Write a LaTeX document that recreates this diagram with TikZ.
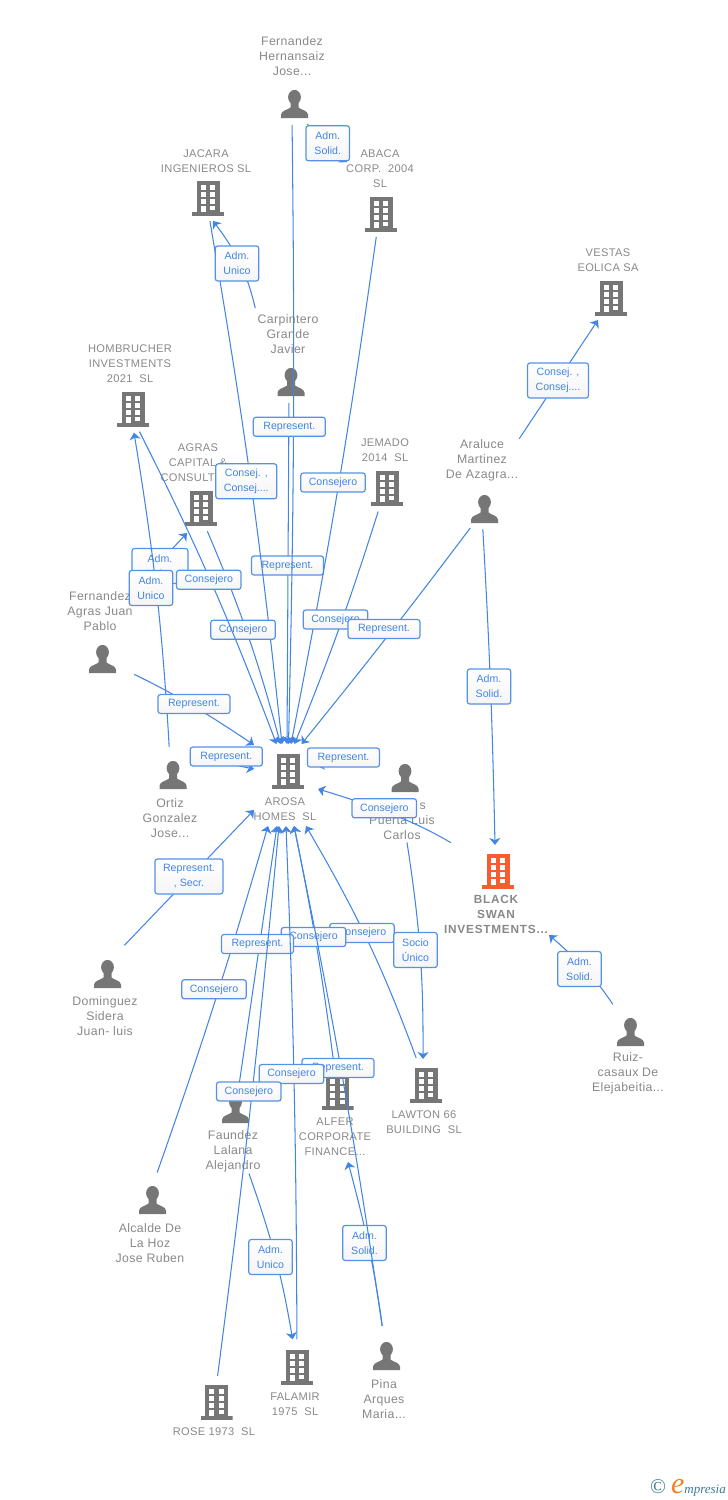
\documentclass[tikz,border=0pt]{standalone}
\usepackage{fontspec}
\setmainfont{Liberation Sans}
\newfontfamily\lblfont[LetterSpace=3]{Liberation Sans}
\newfontfamily\swanfont[LetterSpace=6.5]{Liberation Sans}
\newfontfamily\logofont{Liberation Serif}
\usetikzlibrary{positioning,arrows.meta,shadings}
\definecolor{relblue}{RGB}{66,133,228}
\definecolor{iconGray}{RGB}{118,118,118}
\definecolor{lblGray}{RGB}{136,136,136}
\definecolor{swanOrange}{RGB}{250,92,48}
\definecolor{logoTeal}{RGB}{58,122,150}
\definecolor{logoOrange}{RGB}{245,130,32}
\tikzset{
  rel/.style={draw=relblue,line width=1.05pt,-{Stealth[length=7pt,width=11pt,inset=2pt]}},
  relbox/.style={rectangle,rounded corners=2.5pt,draw=relblue!90,line width=1.2pt,
    top color=white,bottom color=black!4,text=relblue,align=center,inner sep=0pt,
    font=\fontsize{10.6}{15}\selectfont},
  rep/.style={relbox,minimum width=72pt,minimum height=19pt},
  con/.style={relbox,minimum width=64.5pt,minimum height=19pt},
  adm/.style={relbox,minimum width=43.5pt,minimum height=35pt},
  lbl/.style={text=lblGray,align=center,inner sep=1pt,yshift=0.3pt,font=\lblfont\fontsize{12.3}{15}\selectfont},
  colbl/.style={lbl,yshift=-1pt,font=\lblfont\fontsize{11.1}{15}\selectfont},
  swanlbl/.style={lbl,yshift=-1pt,font=\swanfont\bfseries\fontsize{11.8}{15}\selectfont},
  buildingicon/.style={rectangle,inner sep=0pt,minimum width=32pt,minimum height=35pt,
    path picture={
      \begin{scope}[shift={(path picture bounding box.center)}]
        \fill[#1] (-11.5,-17.5) rectangle (11.5,14.5);
        \fill[#1] (-16,14.2) rectangle (16,17.5);
        \foreach \yy in {-13,-6,1}{
          \fill[white] (-7.5,\yy) rectangle (-2.5,\yy+4.5);
          \fill[white] (2,\yy) rectangle (7,\yy+4.5);
        }
        \fill[white] (-7.5,7.7) rectangle (-2.5,14.3);
        \fill[white] (2,7.7) rectangle (7,12);
      \end{scope}
    }},
  building/.style={buildingicon=iconGray},
  person/.style={rectangle,inner sep=0pt,minimum width=27pt,minimum height=28pt,
    path picture={
      \begin{scope}[shift={(path picture bounding box.center)}]
        \fill[iconGray] (0,-6.8) ellipse (6.4 and 7.3);
        \fill[iconGray] (-13.5,14) -- (-13.5,10.5) .. controls (-13,6.5) and (-7,6) .. (-4,3.5)
          -- (-4,-2) -- (4,-2) -- (4,3.5) .. controls (7,6) and (13,6.5) .. (13.5,10.5) -- (13.5,14) -- cycle;
      \end{scope}
    }}
}
\begin{document}
\begin{tikzpicture}[x=1pt,y=-1pt]
  \useasboundingbox (0,0) rectangle (728,1500);

  % icons
  \node [person] (fernandezH) at (294.5,104) {};
  \node [building] (jacara) at (208,198) {};
  \node [building] (abaca) at (381,214) {};
  \node [person] (carpintero) at (291,382) {};
  \node [building] (vestas) at (611,298) {};
  \node [building] (hombrucher) at (133,409) {};
  \node [building] (agras) at (201,508) {};
  \node [building] (jemado) at (387,488) {};
  \node [person] (araluce) at (484.5,509) {};
  \node [person] (fernandezA) at (102.5,659) {};
  \node [person] (ortiz) at (173,775) {};
  \node [building] (arosa) at (288,771) {};
  \node [person] (puerta) at (405,778) {};
  \node [buildingicon=swanOrange] (swan) at (498,871) {};
  \node [person] (dominguez) at (107.5,974) {};
  \node [person] (ruiz) at (630.5,1032) {};
  \node [building] (lawton) at (426,1085) {};
  \node [building] (alfer) at (337.5,1092) {};
  \node [person] (faundez) at (235.5,1109) {};
  \node [person] (alcalde) at (152.5,1200) {};
  \node [building] (falamir) at (297,1367) {};
  \node [building] (rose) at (216.5,1402) {};
  \node [person] (pina) at (386.5,1356) {};

  % names
  \node [lbl] (fernandezHL) at (292,56) {Fernandez\\Hernansaiz\\Jose...};
  \node [colbl] (jacaraL) at (206,160.5) {JACARA\\INGENIEROS SL};
  \node [colbl] (abacaL) at (380,168) {ABACA\\CORP.\ \ 2004\\SL};
  \node [colbl] (vestasL) at (608,259.5) {VESTAS\\EOLICA SA};
  \node [lbl] (carpinteroL) at (288,334) {Carpintero\\Grande\\Javier};
  \node [colbl] (hombrucherL) at (130,363) {HOMBRUCHER\\INVESTMENTS\\2021\ \ SL};
  \node [colbl] (agrasL) at (198,462) {AGRAS\\CAPITAL \&\\CONSULTING};
  \node [colbl] (jemadoL) at (385,449.5) {JEMADO\\2014\ \ SL};
  \node [lbl] (araluceL) at (482,461) {Araluce\\Martinez\\De Azagra...};
  \node [lbl] (fernandezAL) at (100,611) {Fernandez\\Agras Juan\\Pablo};
  \node [lbl] (ortizL) at (170,818) {Ortiz\\Gonzalez\\Jose...};
  \node [colbl] (arosaL) at (285,808.5) {AROSA\\HOMES\ \ SL};
  \node [lbl] (puertaL) at (402,820) {\phantom{Parede}s\\Puerta Luis\\Carlos};
  \node [swanlbl] (swanL) at (496,914) {BLACK\\SWAN\\INVESTMENTS...};
  \node [lbl] (dominguezL) at (105,1016) {Dominguez\\Sidera\\Juan- luis};
  \node [lbl] (ruizL) at (628,1074) {Ruiz-\\casaux De\\Elejabeitia...};
  \node [colbl] (lawtonL) at (424,1121.5) {LAWTON 66\\BUILDING\ \ SL};
  \node [colbl] (alferL) at (335,1136) {ALFER\\CORPORATE\\FINANCE...};
  \node [lbl] (faundezL) at (233,1152) {Faundez\\Lalana\\Alejandro};
  \node [lbl] (alcaldeL) at (150,1243) {Alcalde De\\La Hoz\\Jose Ruben};
  \node [colbl] (falamirL) at (295,1403.5) {FALAMIR\\1975\ \ SL};
  \node [colbl] (roseL) at (214,1431) {ROSE 1973\ \ SL};
  \node [lbl] (pinaL) at (384,1399) {Pina\\Arques\\Maria...};

  % free ends at the hub
  \coordinate (arT1) at (276.5,744);
  \coordinate (arT2) at (280.5,744);
  \coordinate (arT3) at (282,744);
  \coordinate (arT4) at (287,744);
  \coordinate (arT5) at (288.5,744);
  \coordinate (arT6) at (291,744);
  \coordinate (arT7) at (294.5,744);
  \coordinate (arT8) at (301.5,744);
  \coordinate (arW) at (254,745);
  \coordinate (arB1) at (268,826);
  \coordinate (arB2) at (277,826);
  \coordinate (arB3) at (279,826);
  \coordinate (arB4) at (286,826);
  \coordinate (arB5) at (294,826);
  \coordinate (arB6) at (306,826);
  \coordinate (arSW) at (254,810);
  \coordinate (arE) at (318,789);
  \coordinate (arOrtiz) at (254,769);
  \coordinate (arPuerta) at (317,766);
  \coordinate (ortizS) at (200,758);
  \coordinate (puertaS) at (375,752);
  \coordinate (agrasT) at (187,533);
  \coordinate (abacaT) at (347,162);
  \coordinate (jacaraT) at (213,221);
  \coordinate (swanT) at (495,845);
  \coordinate (alferT) at (348,1162);
  \coordinate (vestasT) at (598,320);
  \coordinate (lawtonT) at (423,1059);

  % edges, in drawing order
  \draw [rel,shorten <=7pt] (fernandezH) to[bend right=10] (abacaT);
  \node [adm] (bFA) at (327.7,143.3) {Adm.\\Solid.};

  \draw [rel,shorten <=7pt] ([xshift=-2]carpintero.south) -- (arT4);
  \node [rep] (bCA) at (287.5,565.5) {Represent.};
  \draw [rel,shorten <=7pt] ([xshift=-2.5]fernandezH.south) to[bend left=1] (arT5);
  \node [rep] (bFH) at (289.3,426.8) {Represent.};
  \draw [rel,shorten <=5.5pt] ([xshift=1]jacara.south) to[bend left=1.8] (arT3);
  \node [relbox,minimum width=61pt,minimum height=35pt] (bJA) at (246.3,481.3) {Consej. ,\\Consej....};
  \draw [rel,shorten <=5.5pt] ([xshift=-4]abaca.south) to[bend left=1.5] (arT6);
  \node [con] (bAB) at (333,482.5) {Consejero};
  \draw [rel,shorten <=5pt] (carpinteroL.north west) to[bend right=12] (jacaraT);
  \node [adm] (bCJ) at (237,263.5) {Adm.\\Unico};

  \draw [rel,shorten <=6pt] ([xshift=4]agras.south) to[bend left=4] (arT2);
  \node [con] (bAG) at (243,629.7) {Consejero};
  \draw [rel] (fernandezAL.north east) -- (agrasT);
  \node [relbox,minimum width=56pt,minimum height=35pt] (bFG) at (160,566) {Adm.\\Unico};
  \draw [rel,shorten <=14pt,shorten >=6pt] ([xshift=-3]ortiz.north) to[bend right=3] (hombrucher.south);
  \node [adm] (bOH) at (151,588) {Adm.\\Unico};
  \draw [rel,shorten <=5.5pt] ([xshift=4]hombrucher.south) to[bend left=3] (arT1);
  \node [con] (bHO) at (208.8,579.8) {Consejero};
  \draw [rel,shorten <=6pt] ([xshift=-7]jemado.south) to[bend left=2.2] (arT7);
  \node [con] (bJE) at (335.5,619.5) {Consejero};
  \draw [rel,shorten <=6pt] (araluce) to[bend left=1] (arT8);
  \node [rep] (bAR) at (384,629) {Represent.};

  \draw [rel,shorten <=20pt] (fernandezA) to[bend left=4] (arW);
  \node [rep] (bFW) at (194,704) {Represent.};
  \draw [rel] (ortizS) -- (arOrtiz);
  \node [rep] (bOA) at (226.3,756.5) {Represent.};
  \draw [rel] (puertaS) -- (arPuerta);
  \node [rep] (bPA) at (343.5,757.5) {Represent.};
  \draw [rel,shorten <=36pt] (swan) to[bend right=7] (arE);
  \node [con] (bSA) at (384.3,808.3) {Consejero};

  \draw [rel] (araluceL.north east) -- (vestasT);
  \node [relbox,minimum width=61pt,minimum height=35pt] (bAV) at (558,380.5) {Consej. ,\\Consej....};
  \draw [rel,shorten <=6pt] ([xshift=-2]araluce.south) to[bend left=1] (swanT);
  \node [adm] (bAS) at (489,686.5) {Adm.\\Solid.};
  \draw [rel,shorten <=16pt] (ruiz) to[bend right=8] (swanL.south east);
  \node [adm] (bRS) at (579.5,969) {Adm.\\Solid.};

  \draw [rel,shorten <=20pt] ([xshift=3]dominguez.north) -- (arSW);
  \node [relbox,minimum width=68pt,minimum height=35pt] (bDA) at (189,876.5) {Represent.\\, Secr.};
  \draw [rel,shorten <=14pt] (alcalde.north) to[bend right=1.6] (arB1);
  \node [con] (bAL) at (214,989.3) {Consejero};
  \draw [rel,shorten <=10pt] (lawton) to[bend right=5] (arB6);
  \node [con] (bLA) at (362,933) {Consejero};
  \draw [rel,shorten <=5pt] (alfer) to[bend right=2] (arB5);
  \node [con] (bAF) at (313.5,937) {Consejero};
  \draw [rel] (faundez) -- (arB2);
  \node [rep] (bFD) at (257.5,944) {Represent.};
  \draw [rel] ([xshift=5,yshift=-2]puertaL.south) to[bend left=4.5] (lawtonT);
  \node [adm] (bPL) at (415.5,950) {Socio\\Único};

  \draw [rel,shorten <=16pt] (pina) to[bend right=3.5] (alferT);
  \node [adm] (bPF) at (364.5,1243) {Adm.\\Solid.};
  \draw [rel,shorten <=16pt] (pina) to[bend right=1.6] (arB5);
  \node [rep] (bPR) at (338,1068) {Represent.};
  \draw [rel,shorten <=10pt] (falamir) to[bend right=1] (arB4);
  \node [con] (bFL) at (291.5,1074) {Consejero};
  \draw [rel,shorten <=8.5pt] (rose.north) to[bend right=1] (arB3);
  \node [con] (bRO) at (248.8,1091.5) {Consejero};
  \draw [rel,shorten >=10pt] ([xshift=16]faundezL.south) to[bend left=5] (falamir);
  \node [adm] (bFF) at (270.5,1257) {Adm.\\Unico};

  \node [text=logoTeal,inner sep=0pt,anchor=base east] (logo) at (726,1493.5)
    {\logofont\fontsize{21}{21}\selectfont\textcopyright\hspace{5pt}\itshape\textcolor{logoOrange}{\fontsize{30}{30}\selectfont e}\fontsize{13}{14}\selectfont mpresia};
\end{tikzpicture}
\end{document}
